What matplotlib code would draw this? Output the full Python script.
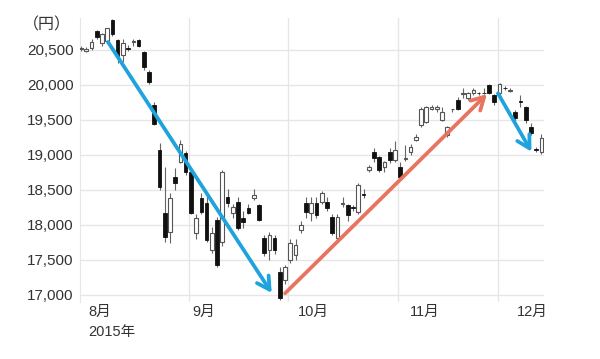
import matplotlib
matplotlib.use('Agg')
import matplotlib.pyplot as plt
import matplotlib.ticker as mticker
import numpy as np
import pandas as pd

plt.rcParams['font.family'] = ['Liberation Sans', 'Noto Sans CJK JP', 'DejaVu Sans']

# trading days, Aug 3 - Dec 11 2015 (Tokyo)
holidays = ['2015-09-21', '2015-09-22', '2015-09-23', '2015-10-12', '2015-11-03', '2015-11-23']
days = pd.bdate_range('2015-08-03', '2015-12-11').drop(pd.to_datetime(holidays))

opens = [20510, 20490, 20530, 20770, 20600, 20630, 20930, 20640, 20430, 20530, 20610,
         20640, 20470, 20190, 19714, 19071, 18171, 17900, 18686, 18900, 19029,
         18757, 17886, 18386, 18314, 17643, 18071, 17757, 18400, 18171, 18329, 18100,
         18243, 18386, 18286, 17814, 17643, 17814, 17329, 17214,
         17500, 17571, 17929, 18314, 18171, 18314, 18329, 18329, 18114, 17814, 18300,
         18286, 18260, 18186, 18440, 18786, 19043, 18971, 18829, 19043, 18929,
         18829, 18940, 19043, 19220, 19429, 19471, 19657, 19660, 19500, 19286, 19650,
         19786, 19870, 19814, 19886, 19890, 19890, 20000, 19857,
         19886, 19960, 19910, 19614, 19770, 19686, 19400, 19080, 19043]
highs = [20560, 20540, 20650, 20790, 20740, 20820, 20946, 20650, 20650, 20570, 20660,
         20660, 20490, 20210, 19760, 19171, 18829, 18457, 18814, 19220, 19060,
         18800, 18150, 18450, 18457, 17971, 18120, 18780, 18520, 18300, 18400, 18200,
         18300, 18520, 18300, 17850, 17900, 17850, 17400, 17430,
         17800, 17800, 18050, 18400, 18400, 18400, 18480, 18400, 18150, 18150, 18400,
         18300, 18280, 18600, 18520, 18860, 19100, 18990, 18920, 19100, 19200,
         18900, 19140, 19150, 19300, 19680, 19700, 19720, 19710, 19680, 19420, 19660,
         19830, 19950, 19900, 19950, 19900, 19960, 20020, 19870,
         20030, 19990, 19950, 19640, 19850, 19700, 19450, 19120, 19300]
lows = [20480, 20470, 20500, 20650, 20560, 20600, 20700, 20314, 20330, 20480, 20560,
        20540, 20220, 20020, 19430, 18500, 17757, 17743, 18500, 18880, 18720,
        18150, 17800, 18150, 17750, 17600, 17400, 17700, 18250, 18100, 17930, 17950,
        18150, 18350, 18050, 17550, 17500, 17580, 16930, 17150,
        17450, 17500, 17880, 18100, 18050, 18100, 18300, 18200, 17850, 17780, 18250,
        18050, 18200, 18150, 18380, 18760, 18900, 18750, 18760, 18880, 18900,
        18650, 18920, 19000, 19200, 19400, 19450, 19640, 19620, 19480, 19250, 19620,
        19640, 19820, 19780, 19860, 19860, 19870, 19870, 19720,
        19860, 19930, 19900, 19480, 19690, 19450, 19280, 19040, 19020]
closes = [20520, 20520, 20614, 20680, 20724, 20808, 20730, 20400, 20600, 20520, 20620,
          20560, 20260, 20040, 19440, 18543, 17829, 18386, 18600, 19150, 18757,
          18171, 18100, 18186, 17792, 17886, 17429, 18757, 18314, 18257, 17957, 18043,
          18171, 18429, 18071, 17600, 17857, 17643, 16957, 17400,
          17743, 17714, 18000, 18186, 18314, 18143, 18457, 18243, 17886, 18114, 18314,
          18143, 18243, 18571, 18430, 18829, 18957, 18786, 18900, 18929, 19071,
          18686, 18960, 19114, 19260, 19657, 19686, 19690, 19690, 19614, 19400, 19657,
          19650, 19880, 19886, 19929, 19880, 19880, 19886, 19757,
          20014, 19950, 19935, 19529, 19760, 19500, 19314, 19071, 19243]

yticks = [17000, 17500, 18000, 18500, 19000, 19500, 20000, 20500]
month_labels = ['8月', '9月', '10月', '11月', '12月']
month_label_x = [1.33, 21.2, 41.5, 62.9, 83.4]

# trend arrows (trading-day index, price)
arrow_from = [(5.15, 20614), (39.0, 17024), (79.7, 19881)]
arrow_to = [(36.45, 17029), (77.6, 19870), (86.1, 19047)]
arrow_colors = ['#1fa3dd', '#e8735e', '#1fa3dd']

o = np.array(opens)
h = np.array(highs)
l = np.array(lows)
c = np.array(closes)
x = np.arange(len(days))
up = c >= o

fig = plt.figure(figsize=(6.0, 3.59), dpi=100)
ax = fig.add_axes([80 / 600, 1 - 302 / 359, 464 / 600, 284 / 359])

grid_col = '#e6e6e6'
for v in yticks:
    ax.axhline(v, color=grid_col, lw=1, zorder=0)
month_start = [i for i in range(len(days)) if i == 0 or days[i].month != days[i - 1].month]
for i in month_start[1:]:
    ax.axvline(i - 0.35, color=grid_col, lw=1, zorder=0)

ax.vlines(x, l, h, color='#666666', lw=0.8, zorder=2)
body = np.maximum(np.abs(c - o), 12)
bottom = np.minimum(o, c)
ax.bar(x[up], body[up], bottom=bottom[up], width=0.7, facecolor='white',
       edgecolor='#555555', linewidth=0.8, zorder=3)
ax.bar(x[~up], body[~up], bottom=bottom[~up], width=0.7, facecolor='#111111',
       edgecolor='#111111', linewidth=0.6, zorder=3)

for s, e, col in zip(arrow_from, arrow_to, arrow_colors):
    ax.annotate('', xy=e, xytext=s,
                arrowprops=dict(arrowstyle='->,head_length=0.9,head_width=0.5',
                                color=col, lw=2.7, shrinkA=0, shrinkB=0),
                zorder=5)

ax.set_xlim(-0.2, 88.5)
ax.set_ylim(16900, 20957)
ax.set_yticks(yticks)
ax.yaxis.set_major_formatter(mticker.StrMethodFormatter('{x:,.0f}'))
ax.set_xticks([])
ax.tick_params(axis='y', length=0, pad=4.5, labelsize=11, labelcolor='#333333')
for side in ['top', 'right', 'bottom']:
    ax.spines[side].set_visible(False)
ax.spines['left'].set_color(grid_col)

tr = ax.get_xaxis_transform()
for lab, lx in zip(month_labels, month_label_x):
    ax.text(lx, -0.035, lab, transform=tr, ha='left', va='center',
            fontsize=10.5, color='#333333')
ax.text(month_label_x[0], -0.106, '2015年', transform=tr, ha='left', va='center',
        fontsize=10.5, color='#333333')

fig.text(47 / 600, 1 - 25 / 359, '（円）', ha='center', va='center',
         fontsize=11.5, color='#333333', family=['Noto Sans CJK JP'])

fig.savefig('out.png', dpi=100)
